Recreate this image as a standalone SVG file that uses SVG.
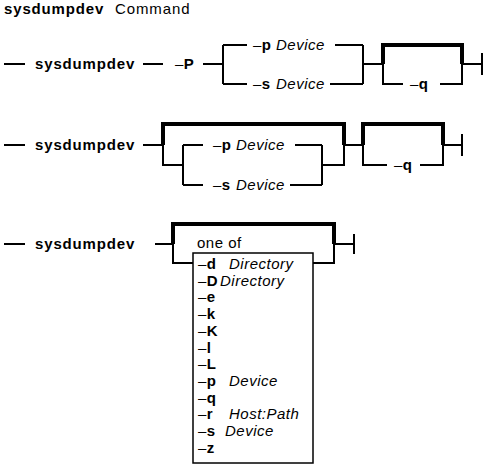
<svg xmlns="http://www.w3.org/2000/svg" width="485" height="465" viewBox="0 0 485 465">
<style>
text{font-family:"Liberation Sans",Arial,Helvetica,sans-serif;font-size:15px;fill:#000;letter-spacing:0.5px}
.b{font-weight:bold}
.i{font-style:italic}
.cmd{font-weight:bold;letter-spacing:0.85px}
.ln{fill:none;stroke:#000;stroke-width:2}
.tk{fill:none;stroke:#000;stroke-width:4}
.box{fill:none;stroke:#000;stroke-width:1.5}
</style>
<rect width="485" height="465" fill="#fff"/>
<g id="title"><text x="4" y="14"><tspan class="cmd">sysdumpdev</tspan><tspan x="115" letter-spacing="0.9">Command</tspan></text></g>

<g id="connectors">
<!-- row 1 -->
<path class="ln" d="M4,64H25 M143,64H163 M203,64H223 M223,45V84 M223,45H247 M335,45H363 M223,84H247 M330,84H363 M363,45V84 M363,64H383 M462,64H482 M482,53V75"/>
<path class="tk" d="M383,64V45H462V64"/>
<path class="ln" d="M383,63V84H403 M440,84H462V63"/>
<!-- row 2 -->
<path class="ln" d="M4,145H25 M143,145H163 M163,144V165H183 M183,145V185 M183,145H203 M295,145H322 M183,185H203 M290,185H322 M322,145V185 M322,165H344V144 M344,145H363 M443,145H462 M462,134V156"/>
<path class="tk" d="M163,145V124H344V145"/>
<path class="tk" d="M363,145V124H443V145"/>
<path class="ln" d="M363,144V165H387 M420,165H443V144"/>
<!-- row 3 -->
<path class="ln" d="M4,244H25 M155,244H173 M173,243V263H193 M313,263H334V243 M334,244H354 M354,234V254"/>
<path class="tk" d="M173,244V224H334V244"/>
</g>

<g id="row1">
<g id="r1-cmd"><text class="cmd" x="35" y="69">sysdumpdev</text></g>
<g id="r1-P"><text x="175" y="69">–<tspan class="b">P</tspan></text></g>
<g id="r1-p"><text x="253" y="50">–<tspan class="b">p</tspan><tspan class="i" x="276">Device</tspan></text></g>
<g id="r1-s"><text x="253" y="89">–<tspan class="b">s</tspan><tspan class="i" x="276">Device</tspan></text></g>
<g id="r1-q"><text x="410" y="89">–<tspan class="b">q</tspan></text></g>
</g>

<g id="row2">
<g id="r2-cmd"><text class="cmd" x="35" y="150">sysdumpdev</text></g>
<g id="r2-p"><text x="213" y="150">–<tspan class="b">p</tspan><tspan class="i" x="236">Device</tspan></text></g>
<g id="r2-s"><text x="213" y="190">–<tspan class="b">s</tspan><tspan class="i" x="236">Device</tspan></text></g>
<g id="r2-q"><text x="394" y="170">–<tspan class="b">q</tspan></text></g>
</g>

<g id="row3">
<g id="r3-cmd"><text class="cmd" x="35" y="249">sysdumpdev</text></g>
<g id="r3-oneof"><text x="197" y="248">one of</text></g>
<g id="r3-box">
<rect class="box" x="193" y="253" width="120" height="210"/>
<text x="198" y="269">–<tspan class="b">d</tspan><tspan class="i" x="229">Directory</tspan></text>
<text x="198" y="285.7">–<tspan class="b">D</tspan><tspan class="i" x="220">Directory</tspan></text>
<text x="198" y="302.4">–<tspan class="b">e</tspan></text>
<text x="198" y="319.1">–<tspan class="b">k</tspan></text>
<text x="198" y="335.8">–<tspan class="b">K</tspan></text>
<text x="198" y="352.5">–<tspan class="b">l</tspan></text>
<text x="198" y="369.2">–<tspan class="b">L</tspan></text>
<text x="198" y="385.9">–<tspan class="b">p</tspan><tspan class="i" x="229">Device</tspan></text>
<text x="198" y="402.6">–<tspan class="b">q</tspan></text>
<text x="198" y="419.3">–<tspan class="b">r</tspan><tspan class="i" x="229">Host:Path</tspan></text>
<text x="198" y="436">–<tspan class="b">s</tspan><tspan class="i" x="225">Device</tspan></text>
<text x="198" y="452.7">–<tspan class="b">z</tspan></text>
</g>
</g>
</svg>
